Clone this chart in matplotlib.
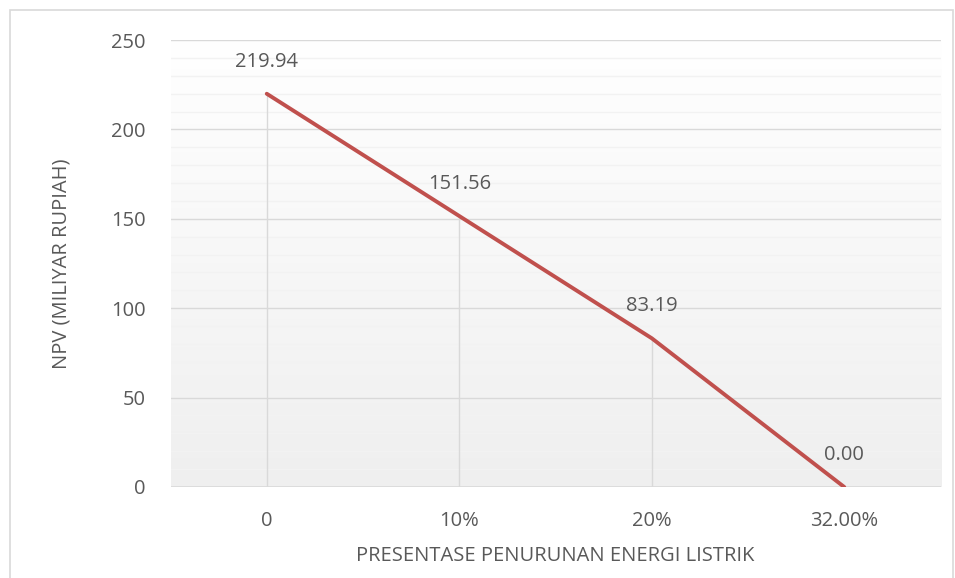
import matplotlib.pyplot as plt
import matplotlib.patches as mpatches
import numpy as np

# data
categories = ['0', '10%', '20%', '32.00%']
npv_values = [219.94, 151.56, 83.19, 0.00]
value_labels = ['219.94', '151.56', '83.19', '0.00']

plt.rcParams['font.family'] = ['Open Sans', 'DejaVu Sans']
text_color = '#595959'
fs = 14.5

fig = plt.figure(figsize=(9.55, 5.78), dpi=100)
ax = fig.add_axes([170.5 / 955, 1 - 487 / 578, 770 / 955, 447 / 578])

# chart border
fig.patches.append(mpatches.Rectangle((10 / 955, -0.01), 943 / 955, 1 - 10 / 578 + 0.01,
                                      transform=fig.transFigure, fill=False,
                                      edgecolor='#d9d9d9', linewidth=1.2))

# gradient background of plot area (white on top, light grey at bottom)
grad = np.linspace(1.0, 0.0, 256).reshape(-1, 1)
ax.imshow(grad, extent=[0, 1, 0, 1], transform=ax.transAxes, aspect='auto',
          cmap=plt.matplotlib.colors.LinearSegmentedColormap.from_list('g', ['#efefef', '#ffffff']),
          zorder=0)

x = np.arange(len(categories))
ax.set_xlim(-0.5, len(categories) - 0.5)
ax.set_ylim(0, 250)

# grid lines
for yv in np.arange(10, 250, 10):
    if yv % 50:
        ax.axhline(yv, color='#f2f2f2', linewidth=1.0, zorder=1)
for yv in np.arange(50, 251, 50):
    ax.axhline(yv, color='#d9d9d9', linewidth=1.0, zorder=1)
ax.axhline(0, color='#d9d9d9', linewidth=1.2, zorder=2)

# drop lines
ax.vlines(x, 0, npv_values, color='#d9d9d9', linewidth=1.0, zorder=2)

ax.plot(x, npv_values, color='#c0504d', linewidth=2.8, zorder=3, solid_capstyle='round')

for xi, yi, lab in zip(x, npv_values, value_labels):
    ax.annotate(lab, (xi, yi), xytext=(0, 23), textcoords='offset points',
                ha='center', va='center', fontsize=fs, color=text_color, zorder=4)

ax.set_xticks(x)
ax.set_xticklabels(categories)
ax.set_yticks(np.arange(0, 251, 50))
ax.tick_params(axis='both', length=0, labelsize=fs, colors=text_color)
ax.tick_params(axis='x', pad=17)
ax.tick_params(axis='y', pad=18)
for s in ax.spines.values():
    s.set_visible(False)

ax.set_xlabel('PRESENTASE PENURUNAN ENERGI LISTRIK', fontsize=fs, color=text_color, labelpad=11)
ax.set_ylabel('NPV (MILIYAR RUPIAH)', fontsize=fs, color=text_color, labelpad=28)

fig.savefig('out.png', dpi=100, facecolor='white')
